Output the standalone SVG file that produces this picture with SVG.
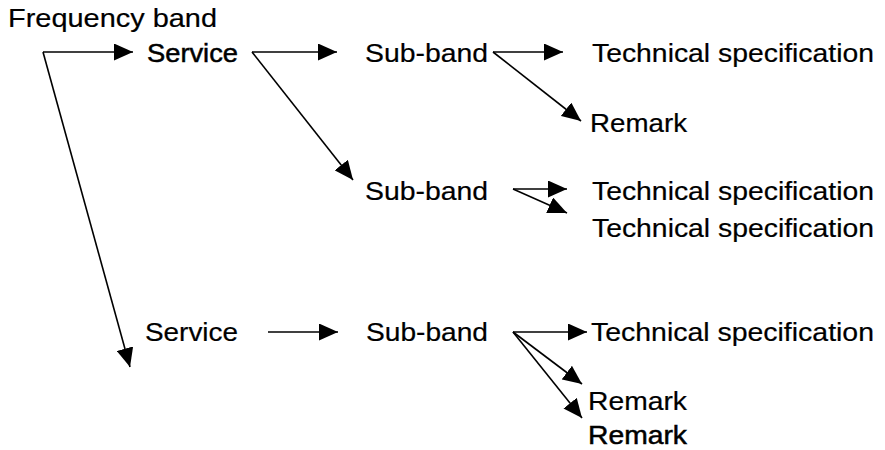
<svg xmlns="http://www.w3.org/2000/svg" width="885" height="450" viewBox="0 0 885 450">
  <style>
    text { font-family: "Liberation Sans", Arial, sans-serif; font-size: 26px; fill: #000; stroke: #000; stroke-width: 0.2; }
    .heavy { stroke-width: 0.5; }
    .link { stroke: #000; stroke-width: 1.6; fill: none; marker-end: url(#head); }
  </style>
  <defs>
    <marker id="head" viewBox="0 0 19 17" refX="19" refY="8.5" markerWidth="19" markerHeight="17" markerUnits="userSpaceOnUse" orient="auto">
      <path d="M0,0 L19,8.5 L0,17 z" fill="#000"/>
    </marker>
  </defs>

  <g id="frequency-band"><text x="8" y="27" textLength="209" lengthAdjust="spacingAndGlyphs">Frequency band</text></g>

  <g id="service-1"><text class="heavy" x="147" y="62" textLength="91" lengthAdjust="spacingAndGlyphs">Service</text></g>
  <g id="subband-1"><text x="365" y="62" textLength="123" lengthAdjust="spacingAndGlyphs">Sub-band</text></g>
  <g id="techspec-1"><text x="592" y="62" textLength="282" lengthAdjust="spacingAndGlyphs">Technical specification</text></g>
  <g id="remark-1"><text x="590" y="132" textLength="97" lengthAdjust="spacingAndGlyphs">Remark</text></g>

  <g id="subband-2"><text x="365" y="200" textLength="123" lengthAdjust="spacingAndGlyphs">Sub-band</text></g>
  <g id="techspec-2"><text x="592" y="200" textLength="282" lengthAdjust="spacingAndGlyphs">Technical specification</text></g>
  <g id="techspec-3"><text x="592" y="237" textLength="282" lengthAdjust="spacingAndGlyphs">Technical specification</text></g>

  <g id="service-2"><text x="145" y="341" textLength="93" lengthAdjust="spacingAndGlyphs">Service</text></g>
  <g id="subband-3"><text x="366" y="341" textLength="122" lengthAdjust="spacingAndGlyphs">Sub-band</text></g>
  <g id="techspec-4"><text x="591" y="341" textLength="283" lengthAdjust="spacingAndGlyphs">Technical specification</text></g>
  <g id="remark-2"><text x="588" y="410" textLength="99" lengthAdjust="spacingAndGlyphs">Remark</text></g>
  <g id="remark-3"><text class="heavy" x="588" y="444" textLength="99" lengthAdjust="spacingAndGlyphs">Remark</text></g>

  <g id="connectors">
    <!-- frequency band fan-out -->
    <path class="link" d="M43,52 H133"/>
    <path class="link" d="M43,52 L130,367"/>
    <!-- first service -->
    <path class="link" d="M252,52 H337"/>
    <path class="link" d="M252,52 L353,180"/>
    <!-- first sub-band -->
    <path class="link" d="M493,52 H563"/>
    <path class="link" d="M493,52 L581,121"/>
    <!-- second sub-band -->
    <path class="link" d="M513,189 H567"/>
    <path class="link" d="M513,189 L567,213"/>
    <!-- second service -->
    <path class="link" d="M268,332 H338"/>
    <!-- third sub-band -->
    <path class="link" d="M513,332 H587"/>
    <path class="link" d="M513,332 L582,384"/>
    <path class="link" d="M513,332 L582,418"/>
  </g>
</svg>
